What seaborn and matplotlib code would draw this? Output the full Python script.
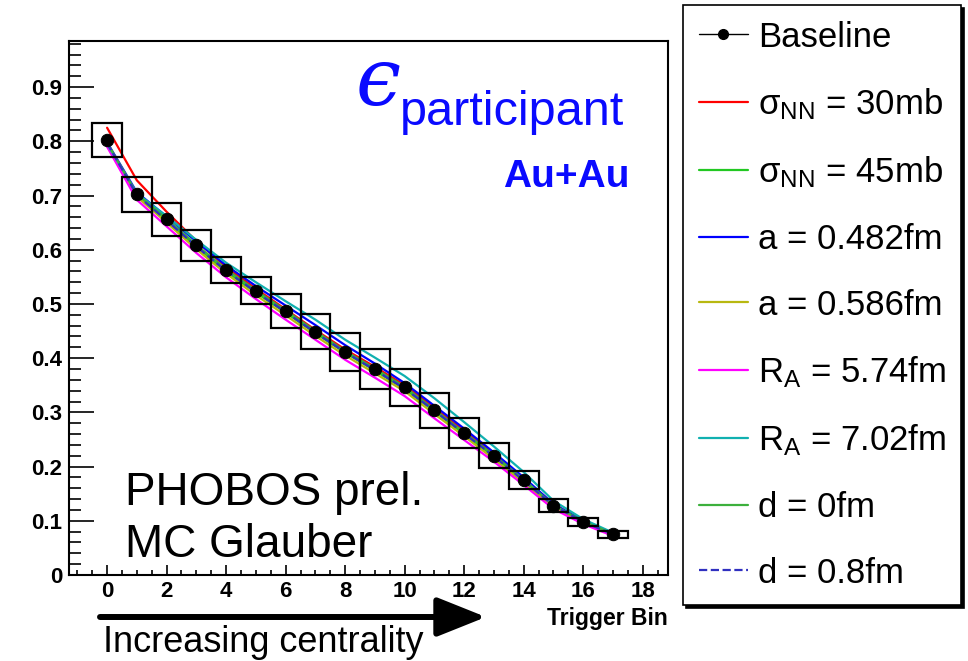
import numpy as np
import pandas as pd
import seaborn as sns
import matplotlib.pyplot as plt
from matplotlib.lines import Line2D
from matplotlib.ticker import MultipleLocator

# trigger bins and baseline eccentricity
bins = list(range(18))
baseline = [0.802, 0.702, 0.656, 0.608, 0.563, 0.524, 0.487, 0.449, 0.412,
            0.380, 0.346, 0.304, 0.262, 0.220, 0.175, 0.128, 0.098, 0.075]
# half height of the systematic error boxes
syst = [0.031, 0.032, 0.030, 0.029, 0.024, 0.025, 0.031, 0.033, 0.035,
        0.037, 0.034, 0.032, 0.028, 0.023, 0.016, 0.0125, 0.007, 0.006]

# Glauber parameter variations
sig30 = [0.825, 0.728, 0.670, 0.616, 0.568, 0.528, 0.490, 0.452, 0.416,
         0.384, 0.350, 0.308, 0.266, 0.223, 0.178, 0.131, 0.100, 0.077]
sig45 = [0.796, 0.700, 0.653, 0.605, 0.560, 0.521, 0.484, 0.446, 0.410,
         0.377, 0.343, 0.302, 0.260, 0.218, 0.173, 0.127, 0.097, 0.075]
a482 = [0.798, 0.706, 0.661, 0.615, 0.571, 0.533, 0.497, 0.461, 0.424,
        0.390, 0.354, 0.312, 0.270, 0.226, 0.180, 0.131, 0.100, 0.077]
a586 = [0.795, 0.698, 0.650, 0.601, 0.556, 0.516, 0.479, 0.441, 0.405,
        0.372, 0.339, 0.297, 0.256, 0.214, 0.170, 0.125, 0.096, 0.074]
ra574 = [0.790, 0.692, 0.643, 0.594, 0.549, 0.509, 0.471, 0.434, 0.397,
         0.364, 0.330, 0.289, 0.249, 0.209, 0.166, 0.122, 0.094, 0.072]
ra702 = [0.795, 0.704, 0.662, 0.618, 0.576, 0.540, 0.505, 0.471, 0.434,
         0.401, 0.367, 0.326, 0.282, 0.237, 0.190, 0.137, 0.103, 0.078]
d0 = [0.798, 0.703, 0.657, 0.609, 0.564, 0.525, 0.488, 0.450, 0.413,
      0.381, 0.347, 0.305, 0.263, 0.221, 0.176, 0.129, 0.099, 0.076]
d08 = [0.797, 0.701, 0.654, 0.606, 0.561, 0.522, 0.485, 0.447, 0.411,
       0.378, 0.344, 0.303, 0.261, 0.219, 0.174, 0.128, 0.098, 0.075]

labels = [r'σ$_{\mathrm{NN}}$ = 30mb', r'σ$_{\mathrm{NN}}$ = 45mb',
          'a = 0.482fm', 'a = 0.586fm',
          r'R$_{\mathrm{A}}$ = 5.74fm', r'R$_{\mathrm{A}}$ = 7.02fm',
          'd = 0fm', 'd = 0.8fm']
series = [sig30, sig45, a482, a586, ra574, ra702, d0, d08]
colors = ['#ff0000', '#22c822', '#0000ff', '#b8b810',
          '#ff00ff', '#10b0b0', '#3cb03c', '#3030c0']
styles = ['-', '-', '-', '-', '-', '-', '-', '--']

sns.set_style('ticks')
plt.rcParams['font.family'] = ['Liberation Sans', 'DejaVu Sans']
plt.rcParams['mathtext.fontset'] = 'custom'
plt.rcParams['mathtext.rm'] = 'Liberation Sans'
plt.rcParams['mathtext.default'] = 'regular'
for key in ['text.color', 'xtick.color', 'ytick.color', 'axes.edgecolor',
            'axes.labelcolor']:
    plt.rcParams[key] = 'black'

W, H = 968, 661
fig = plt.figure(figsize=(W / 100, H / 100), dpi=100)
ax = fig.add_axes([69 / W, 1 - 575 / H, (668 - 69) / W, (575 - 41) / H])

def fxy(x, y):
    return x / W, 1 - y / H

handles = [Line2D([], [], color='black', lw=1, marker='o', markersize=7)]
for vals, lab, col, ls in zip(series, labels, colors, styles):
    sns.lineplot(x=bins, y=vals, ax=ax, color=col, linestyle=ls, lw=1.6, zorder=2)
    handles.append(Line2D([], [], color=col, lw=1.6, linestyle=ls))

# systematic error boxes
lo = np.array(baseline) - np.array(syst)
ax.bar(bins, 2 * np.array(syst), bottom=lo, width=1.0, fill=False,
       edgecolor='black', linewidth=1.6, zorder=3)
sns.scatterplot(x=bins, y=baseline, ax=ax, color='black', s=80,
                edgecolor='black', zorder=4)

ax.set_xlim(-1.28, 18.85)
ax.set_ylim(0, 0.985)
ax.xaxis.set_minor_locator(MultipleLocator(0.5))
ax.yaxis.set_minor_locator(MultipleLocator(0.02))
ax.set_yticks(np.arange(0, 0.95, 0.1))
ax.set_yticklabels(['0'] + [f'{v:.1f}' for v in np.arange(0.1, 0.95, 0.1)])
ax.set_xticks(range(0, 19, 2))
ax.tick_params(axis='both', which='both', direction='in', top=False, right=False,
               labelsize=16, width=1.2)
ax.tick_params(axis='y', which='major', length=18, pad=5)
ax.tick_params(axis='y', which='minor', length=8.5)
ax.tick_params(axis='x', which='major', length=7, pad=4)
ax.tick_params(axis='x', which='minor', length=3.5)
for t in ax.get_xticklabels() + ax.get_yticklabels():
    t.set_fontweight('bold')
for sp in ax.spines.values():
    sp.set_linewidth(1.5)
ax.set_xlabel('')
ax.set_ylabel('')

# annotations
fig.text(*fxy(356, 105), 'ϵ', color='#0a0aff', fontsize=58,
         family='DejaVu Serif', style='italic', ha='left', va='baseline')
fig.text(*fxy(400, 125), 'participant', color='#0a0aff', fontsize=35,
         ha='left', va='baseline')
fig.text(*fxy(630, 187), 'Au+Au', color='#0a0aff', fontsize=28,
         fontweight='bold', ha='right', va='baseline')
fig.text(*fxy(125, 505), 'PHOBOS prel.', fontsize=33, ha='left', va='baseline')
fig.text(*fxy(125, 557), 'MC Glauber', fontsize=33, ha='left', va='baseline')
fig.text(*fxy(668, 618), 'Trigger Bin', fontsize=16.5, fontweight='bold',
         ha='right', va='center')
fig.text(*fxy(103, 652), 'Increasing centrality', fontsize=26, ha='left',
         va='baseline')
fig.add_artist(plt.Annotation('', xy=fxy(486, 617), xytext=fxy(100, 617),
                              xycoords='figure fraction',
                              textcoords='figure fraction',
                              arrowprops=dict(arrowstyle='-|>,head_length=1.5,head_width=0.6',
                                              lw=4.3, color='black',
                                              mutation_scale=20,
                                              shrinkA=0, shrinkB=0)))

leg = fig.legend(handles, ['Baseline'] + labels, loc='upper left',
                 bbox_to_anchor=fxy(683, 5), borderaxespad=0, fontsize=25,
                 handlelength=1.41, handletextpad=0.29, borderpad=0.45,
                 labelspacing=0.94, fancybox=False, frameon=True,
                 shadow={'color': 'black', 'alpha': 1, 'shade': 0})
leg.get_frame().set_edgecolor('black')
leg.get_frame().set_linewidth(1.2)

fig.savefig('out.png', dpi=100)
